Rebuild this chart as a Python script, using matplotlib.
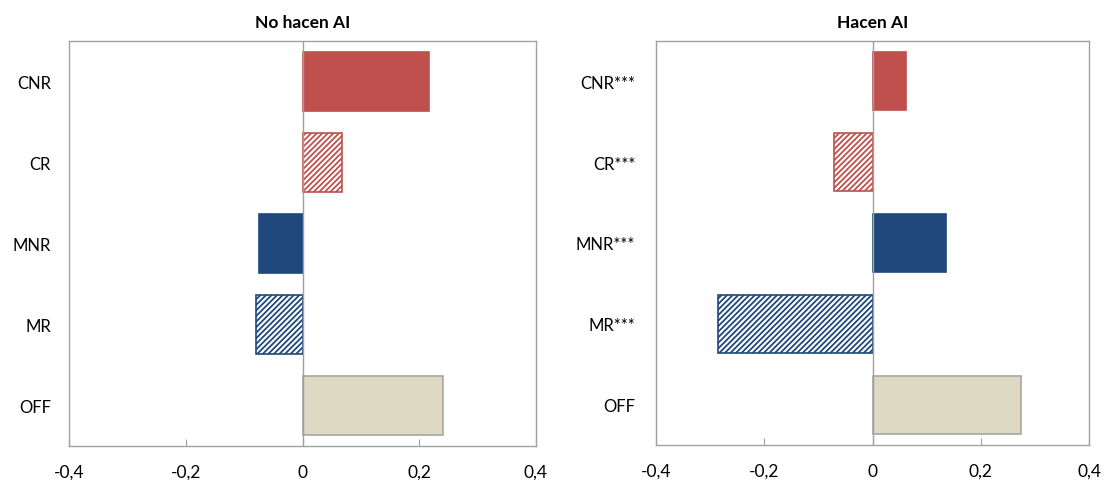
import numpy as np
from matplotlib import pyplot as plt
from matplotlib.ticker import FuncFormatter

plt.rcParams["font.family"] = ["Lato", "DejaVu Sans"]
plt.rcParams["hatch.linewidth"] = 1.3

categories_left = ["CNR", "CR", "MNR", "MR", "OFF"]
categories_right = ["CNR***", "CR***", "MNR***", "MR***", "OFF"]
values_left = [0.216, 0.067, -0.074, -0.079, 0.241]
values_right = [0.061, -0.072, 0.135, -0.285, 0.275]
titles = ["No hacen AI", "Hacen AI"]
xticks = [-0.4, -0.2, 0, 0.2, 0.4]

red = "#C0504D"
blue = "#1F497D"
beige = "#DDD9C3"
styles = [
    dict(color=red, edgecolor=red),
    dict(color="white", edgecolor=red, hatch="//////"),
    dict(color=blue, edgecolor=blue),
    dict(color="white", edgecolor=blue, hatch="//////"),
    dict(color=beige, edgecolor="#A6A6A6"),
]

W, H = 1104, 481
fig = plt.figure(figsize=(W / 100, H / 100), dpi=100)
ax1 = fig.add_axes([69 / W, (H - 447) / H, 467 / W, 405 / H])
ax2 = fig.add_axes([656 / W, (H - 446) / H, 433 / W, 404 / H])

for ax, cats, vals, title, ypad in zip([ax1, ax2], [categories_left, categories_right],
                                       [values_left, values_right], titles, [13, 15]):
    y = np.arange(len(cats))
    for yi, v, st in zip(y, vals, styles):
        ax.barh(yi, v, height=0.72, linewidth=1.2, zorder=2, **st)
    ax.axvline(0, color="#A0A0A0", linewidth=1.0, zorder=3)
    ax.set_xlim(-0.4, 0.4)
    ax.set_ylim(len(cats) - 0.5, -0.5)
    ax.set_yticks(y)
    ax.set_yticklabels(cats, fontsize=12)
    ax.set_xticks(xticks)
    ax.xaxis.set_major_formatter(FuncFormatter(
        lambda v, p: "0" if abs(v) < 1e-9 else f"{v:.1f}".replace(".", ",")))
    ax.tick_params(axis="x", direction="in", length=5, color="#A0A0A0",
                   labelsize=12.5, pad=13)
    ax.tick_params(axis="y", length=0, pad=ypad)
    for s in ax.spines.values():
        s.set_color("#A0A0A0")
        s.set_linewidth(1.0)
    ax.set_title(title, fontsize=12.5, fontweight="bold", pad=10)

fig.savefig("out.png", dpi=100)
